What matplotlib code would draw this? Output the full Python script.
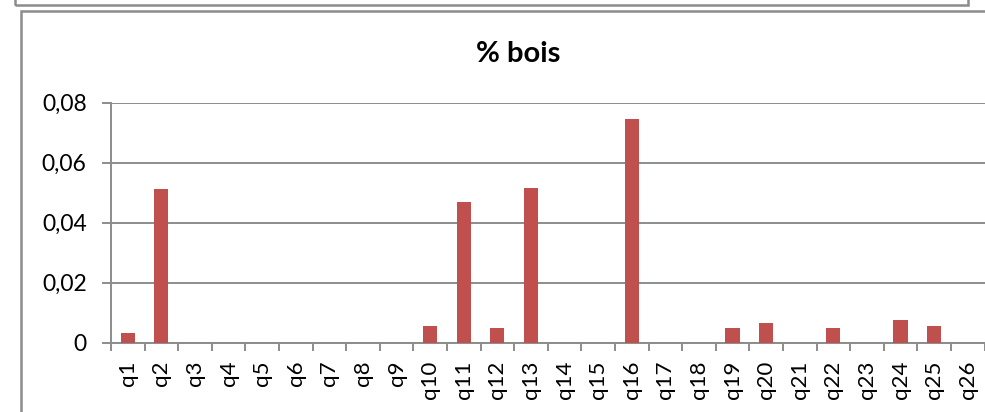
import matplotlib
matplotlib.use("Agg")
import matplotlib.pyplot as plt
from matplotlib.patches import Rectangle
import numpy as np

plt.rcParams['font.family'] = ['Lato', 'DejaVu Sans']

# data
categories = ['q%d' % i for i in range(1, 27)]
values = [0.0033, 0.0511, 0, 0, 0, 0, 0, 0, 0, 0.0054,
          0.0469, 0.0049, 0.0514, 0, 0, 0.0744, 0, 0, 0.0049, 0.0065,
          0, 0.0048, 0, 0.0074, 0.0055, 0]
yticks = [0, 0.02, 0.04, 0.06, 0.08]
ytick_labels = ['0', '0,02', '0,04', '0,06', '0,08']

W, H = 985, 412
fig = plt.figure(figsize=(W / 100, H / 100), dpi=100)

# frame of the chart above (cut off) and of this chart
fig.patches.append(Rectangle((15 / W, 1 - 5 / H), (968 - 15) / W, 20 / H,
                             transform=fig.transFigure, fill=False,
                             edgecolor='#8c8c8c', linewidth=1.8))
fig.patches.append(Rectangle((21 / W, -0.1), 1.2, 1.1 - 11 / H,
                             transform=fig.transFigure, fill=False,
                             edgecolor='#8c8c8c', linewidth=1.8))

left, right = 111 / W, 984.5 / W
bottom, top = 1 - 342.5 / H, 1 - 102.5 / H
ax = fig.add_axes([left, bottom, right - left, top - bottom])

x = np.arange(len(categories))
ax.bar(x, values, width=0.42, color='#C0504D', zorder=3)

ax.set_xlim(-0.5, len(categories) - 0.5)
ax.set_ylim(0, 0.08)
ax.set_yticks(yticks)
ax.set_yticklabels(ytick_labels)
ax.yaxis.grid(True, color='#8c8c8c', linewidth=1.4)
ax.set_axisbelow(True)

ax.set_xticks(x)
ax.set_xticklabels(categories, rotation=90)
ax.set_xticks(np.arange(len(categories) + 1) - 0.5, minor=True)
ax.tick_params(axis='x', which='major', length=0, pad=13, labelsize=16)
ax.tick_params(axis='x', which='minor', length=6, width=1.4, color='#8c8c8c', direction='out')
ax.tick_params(axis='y', length=6.5, width=1.4, color='#8c8c8c', pad=11, labelsize=16.5)

for s in ['top', 'right']:
    ax.spines[s].set_visible(False)
for s in ['left', 'bottom']:
    ax.spines[s].set_color('#8c8c8c')
    ax.spines[s].set_linewidth(1.4)

fig.text(518 / W, 1 - 62 / H, '% bois', ha='center', va='baseline',
         fontsize=21, fontweight='bold')

fig.savefig('out.png', dpi=100)
